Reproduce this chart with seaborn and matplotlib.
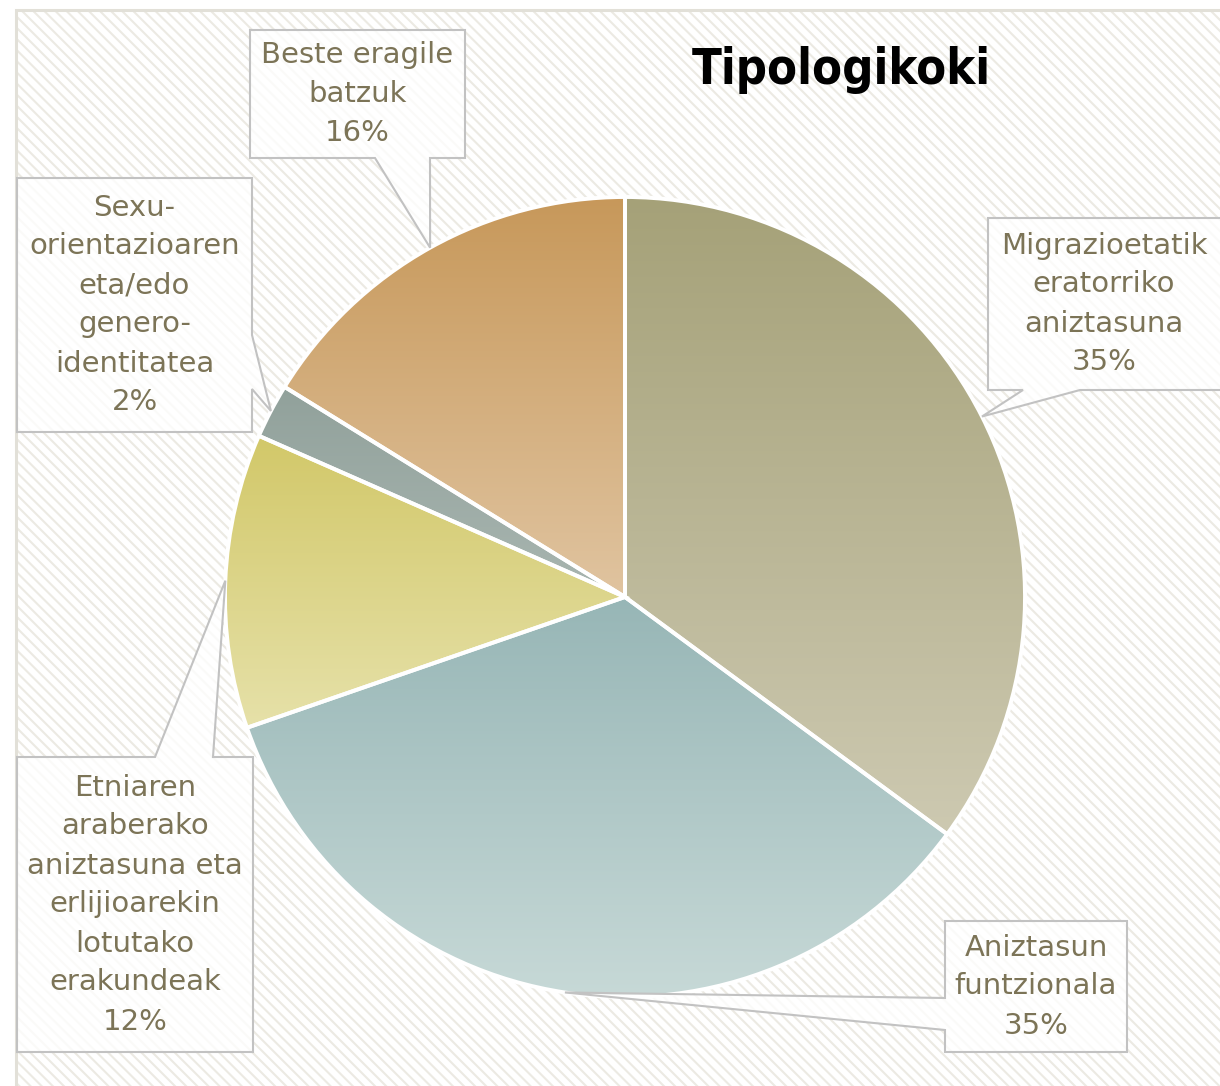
import numpy as np
import matplotlib
matplotlib.use("Agg")
import matplotlib.pyplot as plt
import seaborn as sns
from matplotlib.colors import LinearSegmentedColormap
from matplotlib.patches import Rectangle, Polygon

# datos del gráfico
categories = [
    "Migrazioetatik\neratorriko\naniztasuna",
    "Aniztasun\nfuntzionala",
    "Etniaren\naraberako\naniztasuna eta\nerlijioarekin\nlotutako\nerakundeak",
    "Sexu-\norientazioaren\neta/edo\ngenero-\nidentitatea",
    "Beste eragile\nbatzuk",
]
values = [35.1, 34.6, 11.9, 2.2, 16.2]
top_colors = ["#A5A178", "#97B6B6", "#D2C869", "#91A19B", "#C7985A"]
bottom_colors = ["#CDC9B1", "#C7D9D7", "#E6E1A9", "#A9B6B1", "#E0C4A0"]

sns.set_theme(style="white")
plt.rcParams["font.family"] = ["DejaVu Sans"]
plt.rcParams["hatch.linewidth"] = 1.5

W, H, DPI = 1220, 1086, 100
CX, CY, R = 625, 597, 400  # centro y radio en píxeles


def px(x, y):
    return (x - CX) / R, (CY - y) / R


fig = plt.figure(figsize=(W / DPI, H / DPI), dpi=DPI)
ax = fig.add_axes([0, 0, 1, 1])

# fondo rayado con marco
x0, y0 = px(16, 10)
x1, y1 = px(1240, 1100)
ax.add_patch(Rectangle((x0, y1), x1 - x0, y0 - y1, facecolor="white",
                       edgecolor="#ECEAE3", hatch="\\\\\\", linewidth=0, zorder=0))
ax.add_patch(Rectangle((x0, y1), x1 - x0, y0 - y1, facecolor="none",
                       edgecolor="#E2E0D8", linewidth=2.2, zorder=0.5))

wedges, _ = ax.pie(values, startangle=90, counterclock=False, radius=1,
                   colors=["none"] * len(values),
                   wedgeprops=dict(edgecolor="white", linewidth=2.8))

# degradado vertical en cada sector
grad = np.linspace(0, 1, 256).reshape(-1, 1)
for w, c_top, c_bot in zip(wedges, top_colors, bottom_colors):
    w.set_zorder(3)
    ext = w.get_path().get_extents()
    cmap = LinearSegmentedColormap.from_list("g", [c_top, c_bot])
    im = ax.imshow(grad, cmap=cmap, origin="upper", aspect="auto",
                   extent=[ext.x0, ext.x1, ext.y0, ext.y1], zorder=2,
                   interpolation="bilinear")
    im.set_clip_path(w)

# cajas de etiquetas: (x0, y0, x1, y1), lado del puntero, base del puntero
boxes = [
    ((988, 218, 1224, 390), "bottom", (1023, 1080)),
    ((945, 921, 1127, 1052), "left", (998, 1030)),
    ((17, 757, 253, 1052), "top", (155, 213)),
    ((17, 178, 252, 432), "right", (335, 389)),
    ((250, 30, 465, 158), "bottom", (375, 430)),
]

for w, cat, val, (box, side, (a, b)) in zip(wedges, categories, values, boxes):
    mid = np.deg2rad((w.theta1 + w.theta2) / 2)
    tip = (np.cos(mid), np.sin(mid))
    bx0, by0, bx1, by1 = box
    pts = [px(bx0, by0)]
    if side == "top":
        pts += [px(a, by0), tip, px(b, by0)]
    pts += [px(bx1, by0)]
    if side == "right":
        pts += [px(bx1, a), tip, px(bx1, b)]
    pts += [px(bx1, by1)]
    if side == "bottom":
        pts += [px(b, by1), tip, px(a, by1)]
    pts += [px(bx0, by1)]
    if side == "left":
        pts += [px(bx0, b), tip, px(bx0, a)]
    ax.add_patch(Polygon(pts, closed=True, facecolor=(1, 1, 1, 0.78),
                         edgecolor="#C2C2C2", linewidth=1.5, zorder=4))
    tx, ty = px((bx0 + min(bx1, W)) / 2, (by0 + by1) / 2)
    ax.text(tx, ty, f"{cat}\n{round(val):.0f}%", ha="center", va="center",
            fontsize=21, color="#7C7457", linespacing=1.5, zorder=5)

tx, ty = px(841, 70)
ax.text(tx, ty, "Tipologikoki", ha="center", va="center", fontsize=35,
        fontweight="bold", fontstretch="condensed", color="black",
        family=["DejaVu Sans"], zorder=5)

xa, ya = px(0, 0)
xb, yb = px(W, H)
ax.set_xlim(xa, xb)
ax.set_ylim(yb, ya)
ax.set_axis_off()

fig.savefig("out.png", dpi=DPI)
